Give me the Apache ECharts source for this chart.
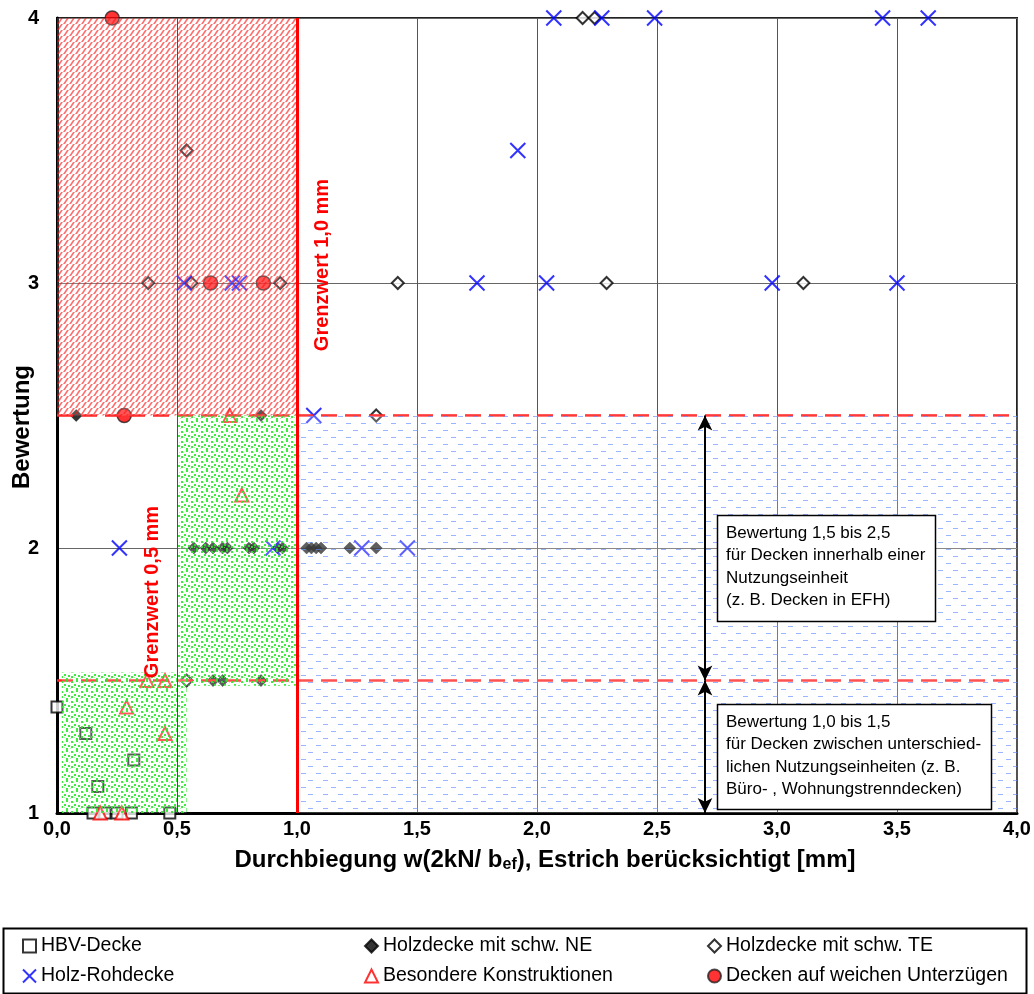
<!DOCTYPE html>
<html>
<head>
<meta charset="utf-8">
<script src="https://cdn.jsdelivr.net/npm/echarts@6/dist/echarts.min.js"></script>
<style>
  html, body { margin: 0; padding: 0; background: #fff; }
  #chart { width: 1034px; height: 994px; }
</style>
</head>
<body>
<div id="chart"></div>
<script>
// ---- measured points: deflection w [mm] and rating ----
const hbvX = [0.00, 0.12, 0.17, 0.32, 0.15, 0.20, 0.25, 0.31, 0.47];
const hbvY = [1.4, 1.3, 1.1, 1.2, 1.0, 1.0, 1.0, 1.0, 1.0];

const neX = [0.08, 0.85, 0.65, 0.69, 0.85, 0.57, 0.62, 0.65, 0.69, 0.71, 0.80, 0.82, 0.92, 0.94, 1.04, 1.06, 1.08, 1.10, 1.22, 1.33];
const neY = [2.5, 2.5, 1.5, 1.5, 1.5, 2.0, 2.0, 2.0, 2.0, 2.0, 2.0, 2.0, 2.0, 2.0, 2.0, 2.0, 2.0, 2.0, 2.0, 2.0];

const teX = [0.54, 0.38, 0.56, 0.93, 1.42, 2.29, 3.11, 2.19, 2.24, 1.33, 0.54];
const teY = [3.5, 3.0, 3.0, 3.0, 3.0, 3.0, 3.0, 4.0, 4.0, 2.5, 1.5];

const rohX = [0.26, 0.53, 0.73, 0.76, 1.07, 0.90, 1.27, 1.46, 1.75, 2.04, 2.98, 3.50, 1.92, 2.07, 2.27, 2.49, 3.44, 3.63];
const rohY = [2.0, 3.0, 3.0, 3.0, 2.5, 2.0, 2.0, 2.0, 3.0, 3.0, 3.0, 3.0, 3.5, 4.0, 4.0, 4.0, 4.0, 4.0];

const besX = [0.18, 0.27, 0.375, 0.45, 0.29, 0.45, 0.72, 0.77];
const besY = [1.0, 1.0, 1.5, 1.5, 1.4, 1.3, 2.5, 2.2];

const uzX = [0.23, 0.28, 0.64, 0.86];
const uzY = [4.0, 2.5, 3.0, 3.0];

// ---- axes ----
const xTicks = [0, 0.5, 1.0, 1.5, 2.0, 2.5, 3.0, 3.5, 4.0];
const yTicks = [1, 2, 3, 4];

// ---- legend columns ----
const legendColumns = [
  ['HBV-Decke', 'Holz-Rohdecke'],
  ['Holzdecke mit schw. NE', 'Besondere Konstruktionen'],
  ['Holzdecke mit schw. TE', 'Decken auf weichen Unterzügen']
];

// ---- rating zones [x0, y0, x1, y1] ----
const hatchZones = [[0.0, 2.5, 1.0, 4.0]];
const dotZones = [[0.5, 1.48, 1.01, 2.5], [0.02, 1.0, 0.54, 1.53]];
const dashZones = [[1.0, 1.0, 4.0, 2.5]];

// limit lines
const ratingLimits = [1.5, 2.5];
const deflectionLimits = [0.5, 1.0];
const deflectionLimitWidths = [1, 3];

// range arrows at w = 2.7
const arrowX = 2.7;
const arrowRanges = [[2.5, 1.5], [1.5, 1.0]];

const pts = (xs, ys) => xs.map((x, i) => [x, ys[i]]);

function makeTile(w, h, draw) {
  const c = document.createElement('canvas');
  c.width = w; c.height = h;
  draw(c.getContext('2d'), w, h);
  return c;
}
const hatchTile = makeTile(6, 6, (g, w, h) => {
  g.fillStyle = 'rgba(255,255,255,0.18)';
  g.fillRect(0, 0, w, h);
  g.strokeStyle = 'rgba(255,20,20,0.62)';
  g.lineWidth = 1.6;
  g.beginPath();
  for (let k = -1; k <= 2; k++) {
    g.moveTo(k * w - w, h + h); g.lineTo(k * w + w, -h);
  }
  g.stroke();
});
const dotTile = makeTile(10, 10, (g, w, h) => {
  g.fillStyle = 'rgba(255,255,255,0.2)';
  g.fillRect(0, 0, w, h);
  g.fillStyle = 'rgba(40,235,40,0.9)';
  [[1, 1], [6, 0], [4, 4], [8, 5], [1, 6], [6, 8]].forEach(p => g.fillRect(p[0], p[1], 2, 2));
  g.fillStyle = 'rgba(120,250,120,0.6)';
  [[3, 2], [9, 2], [0, 8], [4, 7]].forEach(p => g.fillRect(p[0], p[1], 1, 1));
});
const dashTile = makeTile(15, 14, (g, w, h) => {
  g.fillStyle = 'rgba(255,255,255,0.22)';
  g.fillRect(0, 0, w, h);
  g.fillStyle = 'rgba(100,140,255,0.65)';
  g.fillRect(1, 3, 5, 1);
  g.fillRect(8, 10, 5, 1);
});

const zoneData = (zones, tile) => zones.map(z => [
  { coord: [z[0], z[1]], itemStyle: { color: { image: tile, repeat: 'repeat' } } },
  { coord: [z[2], z[3]] }
]);

const FONT = '"Liberation Sans", Arial, sans-serif';
const crossPath = 'path://M0,0 L10,10 M10,0 L0,10';
const legendLeft = [22, 364, 707];

const chart = echarts.init(document.getElementById('chart'), null, { renderer: 'canvas' });

const option = {
  animation: false,
  backgroundColor: '#ffffff',
  textStyle: { fontFamily: FONT },
  grid: {
    left: 57, right: 17, top: 18, bottom: 181,
    show: true, borderColor: '#222', borderWidth: 2, backgroundColor: 'transparent'
  },
  xAxis: {
    type: 'value', min: 0, max: 4, interval: 0.5,
    axisLine: { show: true, onZero: false, lineStyle: { color: '#000', width: 3 } },
    axisTick: { show: false },
    axisLabel: {
      margin: 6, color: '#000', fontWeight: 'bold', fontSize: 20, fontFamily: FONT,
      formatter: v => xTicks.includes(v) ? v.toFixed(1).replace('.', ',') : ''
    },
    splitLine: { show: true, lineStyle: { color: '#555', width: 1 } }
  },
  yAxis: {
    type: 'value', min: 1, max: 4, interval: 1,
    axisLine: { show: true, onZero: false, lineStyle: { color: '#000', width: 3 } },
    axisTick: { show: false },
    axisLabel: {
      margin: 18, color: '#000', fontWeight: 'bold', fontSize: 20, fontFamily: FONT,
      formatter: v => yTicks.includes(v) ? String(v) : ''
    },
    splitLine: { show: true, lineStyle: { color: '#666', width: 1 } }
  },
  legend: legendColumns.map((names, i) => ({
    data: names, orient: 'vertical', left: legendLeft[i], top: 936, padding: 0,
    itemWidth: 13, itemHeight: 13, itemGap: 10,
    textStyle: { fontSize: 19.5, color: '#000', fontFamily: FONT },
    selectedMode: false
  })),
  series: [
    {
      name: 'HBV-Decke', type: 'scatter', z: 2, symbol: 'rect', symbolSize: 11,
      itemStyle: { color: '#fff', borderColor: '#000', borderWidth: 2 },
      data: pts(hbvX, hbvY)
    },
    {
      name: 'Holzdecke mit schw. NE', type: 'scatter', z: 2, symbol: 'diamond', symbolSize: 12,
      itemStyle: { color: '#000', borderColor: '#000', borderWidth: 0.5 },
      data: pts(neX, neY)
    },
    {
      name: 'Holzdecke mit schw. TE', type: 'scatter', z: 2, symbol: 'diamond', symbolSize: 12,
      itemStyle: { color: '#fff', borderColor: '#000', borderWidth: 2 },
      data: pts(teX, teY)
    },
    {
      name: 'Holz-Rohdecke', type: 'scatter', z: 2, symbol: crossPath, symbolSize: 15,
      itemStyle: { color: 'rgba(0,0,0,0)', borderColor: '#0000ff', borderWidth: 2 },
      data: pts(rohX, rohY)
    },
    {
      name: 'Besondere Konstruktionen', type: 'scatter', z: 2, symbol: 'triangle', symbolSize: 13,
      itemStyle: { color: '#fff', borderColor: '#ff0000', borderWidth: 2 },
      data: pts(besX, besY)
    },
    {
      name: 'Decken auf weichen Unterzügen', type: 'scatter', z: 2, symbol: 'circle', symbolSize: 14,
      itemStyle: { color: '#ff0000', borderColor: '#222', borderWidth: 1.5 },
      data: pts(uzX, uzY)
    },
    {
      // dashed rating limits
      name: 'ratingLimits', type: 'line', z: 3, data: [], silent: true,
      markLine: {
        z: 3, symbol: 'none', silent: true, label: { show: false },
        lineStyle: { color: '#ff2020', width: 2.5, type: [16, 8] },
        data: ratingLimits.map(r => [{ coord: [0, r] }, { coord: [4, r] }])
      }
    },
    {
      // shaded rating zones, laid over the points
      name: 'zones', type: 'line', z: 4, data: [], silent: true,
      markArea: {
        z: 4, silent: true, label: { show: false },
        itemStyle: { borderWidth: 0 },
        data: [].concat(
          zoneData(hatchZones, hatchTile),
          zoneData(dotZones, dotTile),
          zoneData(dashZones, dashTile)
        )
      }
    },
    {
      // deflection limits 0,5 mm and 1,0 mm
      name: 'deflectionLimits', type: 'line', z: 5, data: [], silent: true,
      markLine: {
        z: 5, symbol: 'none', silent: true, label: { show: false },
        data: deflectionLimits.map((d, i) => [
          { coord: [d, 1], lineStyle: { color: '#ff0000', width: deflectionLimitWidths[i], type: 'solid' } },
          { coord: [d, 4] }
        ])
      }
    },
    {
      // range arrows
      name: 'ranges', type: 'line', z: 5, data: [], silent: true,
      markLine: {
        z: 5, symbol: ['arrow', 'arrow'], symbolSize: [11, 15], silent: true, label: { show: false },
        lineStyle: { color: '#000', width: 2, type: 'solid' },
        data: arrowRanges.map(r => [{ coord: [arrowX, r[0]] }, { coord: [arrowX, r[1]] }])
      }
    }
  ],
  graphic: {
    elements: [
      {
        type: 'text', z: 100, x: 22, y: 427, rotation: Math.PI / 2,
        style: { text: 'Bewertung', font: 'bold 24px ' + FONT, fill: '#000', align: 'center', verticalAlign: 'middle' }
      },
      {
        type: 'text', z: 100, x: 545, y: 860,
        style: {
          text: '{a|Durchbiegung w(2kN/ b}{s|ef}{a|), Estrich berücksichtigt [mm]}',
          align: 'center', verticalAlign: 'middle',
          rich: {
            a: { fontFamily: FONT, fontWeight: 'bold', fontSize: 24, fill: '#000', lineHeight: 30, verticalAlign: 'middle' },
            s: { fontFamily: FONT, fontWeight: 'bold', fontSize: 16, fill: '#000', lineHeight: 30, verticalAlign: 'bottom', padding: [0, 0, 2, 0] }
          }
        }
      },
      {
        type: 'text', z: 100, x: 322, y: 265, rotation: Math.PI / 2,
        style: { text: 'Grenzwert 1,0 mm', font: 'bold 20px ' + FONT, fill: '#ff0000', align: 'center', verticalAlign: 'middle' }
      },
      {
        type: 'text', z: 100, x: 152, y: 592, rotation: Math.PI / 2,
        style: { text: 'Grenzwert 0,5 mm', font: 'bold 20px ' + FONT, fill: '#ff0000', align: 'center', verticalAlign: 'middle' }
      },
      { type: 'rect', z: 100, shape: { x: 717.5, y: 515.5, width: 218, height: 106 },
        style: { fill: '#fff', stroke: '#000', lineWidth: 1.5 } },
      { type: 'text', z: 101, x: 726, y: 522,
        style: { text: 'Bewertung 1,5 bis 2,5\nfür Decken innerhalb einer\nNutzungseinheit\n(z. B. Decken in EFH)',
                 font: '17px ' + FONT, fill: '#000', lineHeight: 22.5, verticalAlign: 'top' } },
      { type: 'rect', z: 100, shape: { x: 717.5, y: 704.5, width: 274, height: 105 },
        style: { fill: '#fff', stroke: '#000', lineWidth: 1.5 } },
      { type: 'text', z: 101, x: 726, y: 711,
        style: { text: 'Bewertung 1,0 bis 1,5\nfür Decken zwischen unterschied-\nlichen Nutzungseinheiten (z. B.\nBüro- , Wohnungstrenndecken)',
                 font: '17px ' + FONT, fill: '#000', lineHeight: 22.5, verticalAlign: 'top' } },
      {
        type: 'rect', z: 100, shape: { x: 3.5, y: 928.5, width: 1023, height: 65 },
        style: { fill: 'none', stroke: '#000', lineWidth: 2 }
      }
    ]
  }
};

chart.setOption(option);
</script>
</body>
</html>
